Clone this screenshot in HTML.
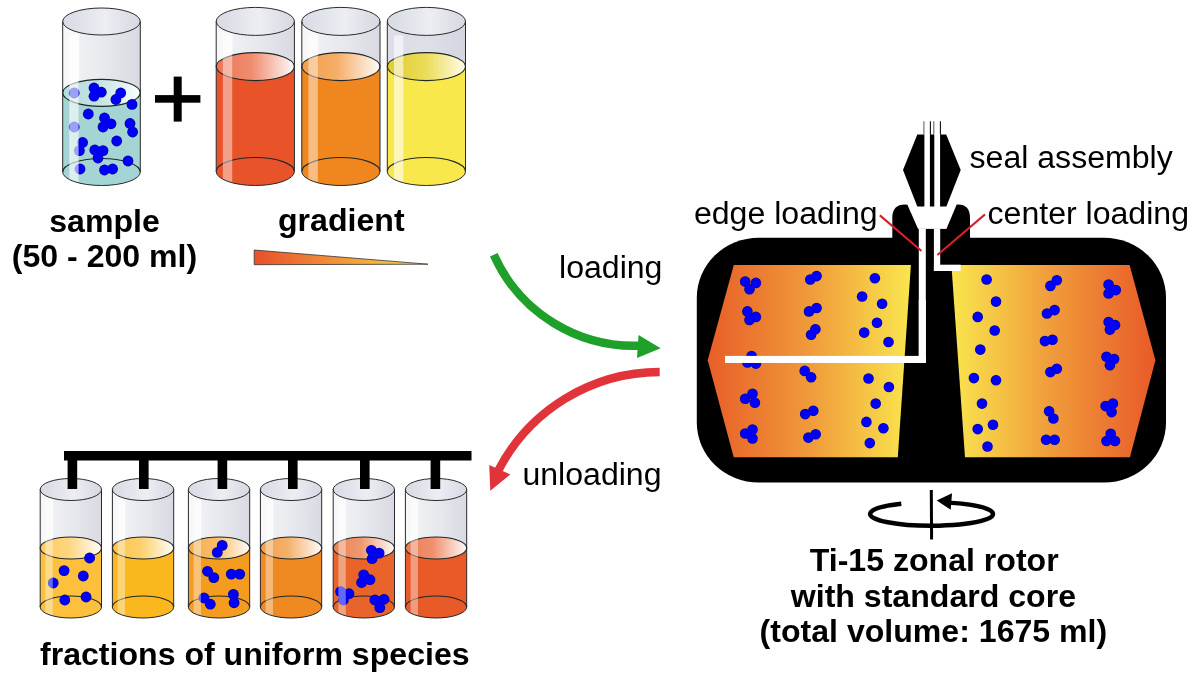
<!DOCTYPE html>
<html><head><meta charset="utf-8"><style>
html,body{margin:0;padding:0;background:#fff;width:1200px;height:678px;overflow:hidden}
svg{display:block;will-change:transform}
text{font-family:"Liberation Sans",sans-serif;font-size:32.1px;fill:#000}
</style></head><body>
<svg width="1200" height="678" viewBox="0 0 1200 678">
<defs>
<linearGradient id="g1" x1="0" x2="1" y1="0" y2="0">
<stop offset="0" stop-color="#f6f6f8"/><stop offset="0.2" stop-color="#fafafb"/><stop offset="0.22" stop-color="#eff0f3"/><stop offset="0.6" stop-color="#e6e7ec"/><stop offset="1" stop-color="#d8d9e2"/></linearGradient>
<linearGradient id="g2" x1="0" x2="1" y1="0" y2="0">
<stop offset="0" stop-color="#dcdde5"/><stop offset="0.5" stop-color="#dedfe7"/><stop offset="1" stop-color="#d4d5df"/></linearGradient>
<linearGradient id="top" x1="0" x2="1" y1="0" y2="0">
<stop offset="0" stop-color="#d8dae4"/><stop offset="0.55" stop-color="#eceef3"/><stop offset="1" stop-color="#d6d8e2"/></linearGradient>
<linearGradient id="surfs" x1="0" x2="1" y1="0" y2="0">
<stop offset="0" stop-color="#b6dddd"/><stop offset="0.45" stop-color="#c2e2e2"/><stop offset="1" stop-color="#fcfefe"/></linearGradient>
<linearGradient id="surfr0" x1="0" x2="1" y1="0" y2="0">
<stop offset="0" stop-color="#ed7555"/><stop offset="0.45" stop-color="#f08c70"/><stop offset="1" stop-color="#fefaf9"/></linearGradient>
<linearGradient id="surfr1" x1="0" x2="1" y1="0" y2="0">
<stop offset="0" stop-color="#f39e4b"/><stop offset="0.45" stop-color="#f5ae68"/><stop offset="1" stop-color="#fffbf8"/></linearGradient>
<linearGradient id="surfr2" x1="0" x2="1" y1="0" y2="0"><stop offset="0" stop-color="#dfcd2e"/><stop offset="0.5" stop-color="#ecdc5a"/><stop offset="1" stop-color="#fffde8"/></linearGradient>
<linearGradient id="surft0" x1="0" x2="1" y1="0" y2="0">
<stop offset="0" stop-color="#fdcd63"/><stop offset="0.45" stop-color="#fdd57c"/><stop offset="1" stop-color="#fffdf9"/></linearGradient>
<linearGradient id="surft1" x1="0" x2="1" y1="0" y2="0">
<stop offset="0" stop-color="#fcc64b"/><stop offset="0.45" stop-color="#fccf68"/><stop offset="1" stop-color="#fffdf8"/></linearGradient>
<linearGradient id="surft2" x1="0" x2="1" y1="0" y2="0">
<stop offset="0" stop-color="#f5b04b"/><stop offset="0.45" stop-color="#f7bd68"/><stop offset="1" stop-color="#fffcf8"/></linearGradient>
<linearGradient id="surft3" x1="0" x2="1" y1="0" y2="0">
<stop offset="0" stop-color="#f2a14e"/><stop offset="0.45" stop-color="#f4b16b"/><stop offset="1" stop-color="#fffbf8"/></linearGradient>
<linearGradient id="surft4" x1="0" x2="1" y1="0" y2="0">
<stop offset="0" stop-color="#ed8355"/><stop offset="0.45" stop-color="#f09770"/><stop offset="1" stop-color="#fefaf9"/></linearGradient>
<linearGradient id="surft5" x1="0" x2="1" y1="0" y2="0">
<stop offset="0" stop-color="#ed7b53"/><stop offset="0.45" stop-color="#f0906f"/><stop offset="1" stop-color="#fefaf9"/></linearGradient>
<linearGradient id="wedge" x1="0" x2="1" y1="0" y2="0">
<stop offset="0" stop-color="#e8502a"/><stop offset="0.6" stop-color="#f5a43a"/><stop offset="1" stop-color="#f8e04a"/></linearGradient>
<linearGradient id="chL" x1="0" x2="1" y1="0" y2="0">
<stop offset="0" stop-color="#e85e28"/><stop offset="0.5" stop-color="#f09a3a"/><stop offset="1" stop-color="#f9e64e"/></linearGradient>
<linearGradient id="chR" x1="0" x2="1" y1="0" y2="0">
<stop offset="0" stop-color="#f9e64e"/><stop offset="0.5" stop-color="#f09a3a"/><stop offset="1" stop-color="#e85a28"/></linearGradient>
</defs>
<rect width="1200" height="678" fill="#fff"/>
<path d="M62.7,21.5 L62.7,172 A38.800000000000004,13.5 0 0 0 140.3,172 L140.3,21.5 Z" fill="url(#g1)"/>
<path d="M62.7,92.8 L62.7,172 A38.800000000000004,13.5 0 0 0 140.3,172 L140.3,92.8 Z" fill="#a4d4d4"/>
<ellipse cx="101.5" cy="92.8" rx="38.800000000000004" ry="13.5" fill="url(#surfs)"/>
<ellipse cx="101.5" cy="92.8" rx="38.800000000000004" ry="13.5" fill="none" stroke="#202828" stroke-width="1.15"/>
<path d="M62.7,172 A38.800000000000004,13.5 0 0 1 140.3,172" fill="none" stroke="#202828" stroke-width="1.15"/>
<circle cx="74.2" cy="93" r="5.4" fill="#0000a0"/>
<circle cx="94" cy="88" r="5.4" fill="#0000a0"/>
<circle cx="101.3" cy="92.2" r="5.4" fill="#0000a0"/>
<circle cx="94" cy="96.2" r="5.4" fill="#0000a0"/>
<circle cx="120.7" cy="93" r="5.4" fill="#0000a0"/>
<circle cx="115.9" cy="99.5" r="5.4" fill="#0000a0"/>
<circle cx="132" cy="104.4" r="5.4" fill="#0000a0"/>
<circle cx="88.3" cy="114" r="5.4" fill="#0000a0"/>
<circle cx="104.5" cy="118" r="5.4" fill="#0000a0"/>
<circle cx="111" cy="123.8" r="5.4" fill="#0000a0"/>
<circle cx="103" cy="127" r="5.4" fill="#0000a0"/>
<circle cx="130" cy="123.5" r="5.4" fill="#0000a0"/>
<circle cx="132.6" cy="132" r="5.4" fill="#0000a0"/>
<circle cx="74.2" cy="127" r="5.4" fill="#0000a0"/>
<circle cx="116.7" cy="141" r="5.4" fill="#0000a0"/>
<circle cx="82.6" cy="142.5" r="5.4" fill="#0000a0"/>
<circle cx="79.4" cy="150.6" r="5.4" fill="#0000a0"/>
<circle cx="94.8" cy="150" r="5.4" fill="#0000a0"/>
<circle cx="103" cy="150.6" r="5.4" fill="#0000a0"/>
<circle cx="98" cy="158" r="5.4" fill="#0000a0"/>
<circle cx="128" cy="161" r="5.4" fill="#0000a0"/>
<circle cx="80" cy="169" r="5.4" fill="#0000a0"/>
<circle cx="104.5" cy="170" r="5.4" fill="#0000a0"/>
<circle cx="112.6" cy="169" r="5.4" fill="#0000a0"/>
<circle cx="74.2" cy="93" r="4.7" fill="#0000f8"/>
<circle cx="94" cy="88" r="4.7" fill="#0000f8"/>
<circle cx="101.3" cy="92.2" r="4.7" fill="#0000f8"/>
<circle cx="94" cy="96.2" r="4.7" fill="#0000f8"/>
<circle cx="120.7" cy="93" r="4.7" fill="#0000f8"/>
<circle cx="115.9" cy="99.5" r="4.7" fill="#0000f8"/>
<circle cx="132" cy="104.4" r="4.7" fill="#0000f8"/>
<circle cx="88.3" cy="114" r="4.7" fill="#0000f8"/>
<circle cx="104.5" cy="118" r="4.7" fill="#0000f8"/>
<circle cx="111" cy="123.8" r="4.7" fill="#0000f8"/>
<circle cx="103" cy="127" r="4.7" fill="#0000f8"/>
<circle cx="130" cy="123.5" r="4.7" fill="#0000f8"/>
<circle cx="132.6" cy="132" r="4.7" fill="#0000f8"/>
<circle cx="74.2" cy="127" r="4.7" fill="#0000f8"/>
<circle cx="116.7" cy="141" r="4.7" fill="#0000f8"/>
<circle cx="82.6" cy="142.5" r="4.7" fill="#0000f8"/>
<circle cx="79.4" cy="150.6" r="4.7" fill="#0000f8"/>
<circle cx="94.8" cy="150" r="4.7" fill="#0000f8"/>
<circle cx="103" cy="150.6" r="4.7" fill="#0000f8"/>
<circle cx="98" cy="158" r="4.7" fill="#0000f8"/>
<circle cx="128" cy="161" r="4.7" fill="#0000f8"/>
<circle cx="80" cy="169" r="4.7" fill="#0000f8"/>
<circle cx="104.5" cy="170" r="4.7" fill="#0000f8"/>
<circle cx="112.6" cy="169" r="4.7" fill="#0000f8"/>
<rect x="69.296" y="35.0" width="9.312000000000001" height="148.475" fill="#fff" opacity="0.62"/>
<ellipse cx="101.5" cy="21.5" rx="38.800000000000004" ry="13.5" fill="url(#top)" stroke="#2a2a2a" stroke-width="1"/>
<path d="M62.7,21.5 L62.7,172 A38.800000000000004,13.5 0 0 0 140.3,172 L140.3,21.5" fill="none" stroke="#2a2a2a" stroke-width="1"/>
<rect x="155" y="95.1" width="45.4" height="7.6" fill="#000"/>
<rect x="173.7" y="76.6" width="8" height="45" fill="#000"/>
<path d="M216.2,21.4 L216.2,171.5 A39.099999999999994,14 0 0 0 294.4,171.5 L294.4,21.4 Z" fill="url(#g1)"/>
<path d="M216.2,66.6 L216.2,171.5 A39.099999999999994,14 0 0 0 294.4,171.5 L294.4,66.6 Z" fill="#e8532a"/>
<ellipse cx="255.29999999999998" cy="66.6" rx="39.099999999999994" ry="14" fill="url(#surfr0)"/>
<ellipse cx="255.29999999999998" cy="66.6" rx="39.099999999999994" ry="14" fill="none" stroke="#202828" stroke-width="1.15"/>
<path d="M216.2,171.5 A39.099999999999994,14 0 0 1 294.4,171.5" fill="none" stroke="#202828" stroke-width="1.15"/>
<rect x="222.84699999999998" y="35.4" width="9.383999999999999" height="148.0" fill="#fff" opacity="0.45"/>
<ellipse cx="255.29999999999998" cy="21.4" rx="39.099999999999994" ry="14" fill="url(#top)" stroke="#2a2a2a" stroke-width="1"/>
<path d="M216.2,21.4 L216.2,171.5 A39.099999999999994,14 0 0 0 294.4,171.5 L294.4,21.4" fill="none" stroke="#2a2a2a" stroke-width="1"/>
<path d="M301.8,21.4 L301.8,171.5 A39.099999999999994,14 0 0 0 380,171.5 L380,21.4 Z" fill="url(#g1)"/>
<path d="M301.8,66.6 L301.8,171.5 A39.099999999999994,14 0 0 0 380,171.5 L380,66.6 Z" fill="#f0861e"/>
<ellipse cx="340.9" cy="66.6" rx="39.099999999999994" ry="14" fill="url(#surfr1)"/>
<ellipse cx="340.9" cy="66.6" rx="39.099999999999994" ry="14" fill="none" stroke="#202828" stroke-width="1.15"/>
<path d="M301.8,171.5 A39.099999999999994,14 0 0 1 380,171.5" fill="none" stroke="#202828" stroke-width="1.15"/>
<rect x="308.447" y="35.4" width="9.383999999999999" height="148.0" fill="#fff" opacity="0.45"/>
<ellipse cx="340.9" cy="21.4" rx="39.099999999999994" ry="14" fill="url(#top)" stroke="#2a2a2a" stroke-width="1"/>
<path d="M301.8,21.4 L301.8,171.5 A39.099999999999994,14 0 0 0 380,171.5 L380,21.4" fill="none" stroke="#2a2a2a" stroke-width="1"/>
<path d="M387.3,21.4 L387.3,171.5 A39.099999999999994,14 0 0 0 465.5,171.5 L465.5,21.4 Z" fill="url(#g2)"/>
<path d="M387.3,66.6 L387.3,171.5 A39.099999999999994,14 0 0 0 465.5,171.5 L465.5,66.6 Z" fill="#f9e84c"/>
<ellipse cx="426.4" cy="66.6" rx="39.099999999999994" ry="14" fill="url(#surfr2)"/>
<ellipse cx="426.4" cy="66.6" rx="39.099999999999994" ry="14" fill="none" stroke="#202828" stroke-width="1.15"/>
<path d="M387.3,171.5 A39.099999999999994,14 0 0 1 465.5,171.5" fill="none" stroke="#202828" stroke-width="1.15"/>
<rect x="393.947" y="35.4" width="9.383999999999999" height="148.0" fill="#fff" opacity="0.6"/>
<ellipse cx="426.4" cy="21.4" rx="39.099999999999994" ry="14" fill="url(#top)" stroke="#2a2a2a" stroke-width="1"/>
<path d="M387.3,21.4 L387.3,171.5 A39.099999999999994,14 0 0 0 465.5,171.5 L465.5,21.4" fill="none" stroke="#2a2a2a" stroke-width="1"/>
<path d="M40.2,489.5 L40.2,607 A30.65,11 0 0 0 101.5,607 L101.5,489.5 Z" fill="url(#g1)"/>
<path d="M40.2,548 L40.2,607 A30.65,11 0 0 0 101.5,607 L101.5,548 Z" fill="#fcc03c"/>
<ellipse cx="70.85" cy="548" rx="30.65" ry="11" fill="url(#surft0)"/>
<ellipse cx="70.85" cy="548" rx="30.65" ry="11" fill="none" stroke="#202828" stroke-width="1.15"/>
<path d="M40.2,607 A30.65,11 0 0 1 101.5,607" fill="none" stroke="#202828" stroke-width="1.15"/>
<circle cx="89.6" cy="558" r="5.4" fill="#0000a0"/>
<circle cx="64.1" cy="570.6" r="5.4" fill="#0000a0"/>
<circle cx="83.3" cy="576" r="5.4" fill="#0000a0"/>
<circle cx="53.2" cy="583" r="5.4" fill="#0000a0"/>
<circle cx="64.8" cy="600" r="5.4" fill="#0000a0"/>
<circle cx="86.1" cy="597" r="5.4" fill="#0000a0"/>
<circle cx="89.6" cy="558" r="4.7" fill="#0000f8"/>
<circle cx="64.1" cy="570.6" r="4.7" fill="#0000f8"/>
<circle cx="83.3" cy="576" r="4.7" fill="#0000f8"/>
<circle cx="53.2" cy="583" r="4.7" fill="#0000f8"/>
<circle cx="64.8" cy="600" r="4.7" fill="#0000f8"/>
<circle cx="86.1" cy="597" r="4.7" fill="#0000f8"/>
<rect x="45.410500000000006" y="500.5" width="7.355999999999999" height="115.85" fill="#fff" opacity="0.4"/>
<ellipse cx="70.85" cy="489.5" rx="30.65" ry="11" fill="url(#top)" stroke="#2a2a2a" stroke-width="1"/>
<path d="M40.2,489.5 L40.2,607 A30.65,11 0 0 0 101.5,607 L101.5,489.5" fill="none" stroke="#2a2a2a" stroke-width="1"/>
<path d="M112.4,489.5 L112.4,607 A30.64999999999999,11 0 0 0 173.7,607 L173.7,489.5 Z" fill="url(#g1)"/>
<path d="M112.4,548 L112.4,607 A30.64999999999999,11 0 0 0 173.7,607 L173.7,548 Z" fill="#fbb81e"/>
<ellipse cx="143.05" cy="548" rx="30.64999999999999" ry="11" fill="url(#surft1)"/>
<ellipse cx="143.05" cy="548" rx="30.64999999999999" ry="11" fill="none" stroke="#202828" stroke-width="1.15"/>
<path d="M112.4,607 A30.64999999999999,11 0 0 1 173.7,607" fill="none" stroke="#202828" stroke-width="1.15"/>
<rect x="117.6105" y="500.5" width="7.355999999999998" height="115.85" fill="#fff" opacity="0.4"/>
<ellipse cx="143.05" cy="489.5" rx="30.64999999999999" ry="11" fill="url(#top)" stroke="#2a2a2a" stroke-width="1"/>
<path d="M112.4,489.5 L112.4,607 A30.64999999999999,11 0 0 0 173.7,607 L173.7,489.5" fill="none" stroke="#2a2a2a" stroke-width="1"/>
<path d="M188.4,489.5 L188.4,607 A30.64999999999999,11 0 0 0 249.7,607 L249.7,489.5 Z" fill="url(#g1)"/>
<path d="M188.4,548 L188.4,607 A30.64999999999999,11 0 0 0 249.7,607 L249.7,548 Z" fill="#f39c1e"/>
<ellipse cx="219.05" cy="548" rx="30.64999999999999" ry="11" fill="url(#surft2)"/>
<ellipse cx="219.05" cy="548" rx="30.64999999999999" ry="11" fill="none" stroke="#202828" stroke-width="1.15"/>
<path d="M188.4,607 A30.64999999999999,11 0 0 1 249.7,607" fill="none" stroke="#202828" stroke-width="1.15"/>
<circle cx="222.2" cy="545.4" r="5.4" fill="#0000a0"/>
<circle cx="217.3" cy="552.4" r="5.4" fill="#0000a0"/>
<circle cx="207.5" cy="571.3" r="5.4" fill="#0000a0"/>
<circle cx="213.8" cy="577.6" r="5.4" fill="#0000a0"/>
<circle cx="231.3" cy="574.1" r="5.4" fill="#0000a0"/>
<circle cx="239.7" cy="574.1" r="5.4" fill="#0000a0"/>
<circle cx="204" cy="598" r="5.4" fill="#0000a0"/>
<circle cx="210.3" cy="604.2" r="5.4" fill="#0000a0"/>
<circle cx="233.4" cy="594.4" r="5.4" fill="#0000a0"/>
<circle cx="234.1" cy="602.8" r="5.4" fill="#0000a0"/>
<circle cx="222.2" cy="545.4" r="4.7" fill="#0000f8"/>
<circle cx="217.3" cy="552.4" r="4.7" fill="#0000f8"/>
<circle cx="207.5" cy="571.3" r="4.7" fill="#0000f8"/>
<circle cx="213.8" cy="577.6" r="4.7" fill="#0000f8"/>
<circle cx="231.3" cy="574.1" r="4.7" fill="#0000f8"/>
<circle cx="239.7" cy="574.1" r="4.7" fill="#0000f8"/>
<circle cx="204" cy="598" r="4.7" fill="#0000f8"/>
<circle cx="210.3" cy="604.2" r="4.7" fill="#0000f8"/>
<circle cx="233.4" cy="594.4" r="4.7" fill="#0000f8"/>
<circle cx="234.1" cy="602.8" r="4.7" fill="#0000f8"/>
<rect x="193.6105" y="500.5" width="7.355999999999998" height="115.85" fill="#fff" opacity="0.4"/>
<ellipse cx="219.05" cy="489.5" rx="30.64999999999999" ry="11" fill="url(#top)" stroke="#2a2a2a" stroke-width="1"/>
<path d="M188.4,489.5 L188.4,607 A30.64999999999999,11 0 0 0 249.7,607 L249.7,489.5" fill="none" stroke="#2a2a2a" stroke-width="1"/>
<path d="M260.4,489.5 L260.4,607 A30.650000000000006,11 0 0 0 321.7,607 L321.7,489.5 Z" fill="url(#g1)"/>
<path d="M260.4,548 L260.4,607 A30.650000000000006,11 0 0 0 321.7,607 L321.7,548 Z" fill="#ef8a22"/>
<ellipse cx="291.04999999999995" cy="548" rx="30.650000000000006" ry="11" fill="url(#surft3)"/>
<ellipse cx="291.04999999999995" cy="548" rx="30.650000000000006" ry="11" fill="none" stroke="#202828" stroke-width="1.15"/>
<path d="M260.4,607 A30.650000000000006,11 0 0 1 321.7,607" fill="none" stroke="#202828" stroke-width="1.15"/>
<rect x="265.6105" y="500.5" width="7.356000000000001" height="115.85" fill="#fff" opacity="0.4"/>
<ellipse cx="291.04999999999995" cy="489.5" rx="30.650000000000006" ry="11" fill="url(#top)" stroke="#2a2a2a" stroke-width="1"/>
<path d="M260.4,489.5 L260.4,607 A30.650000000000006,11 0 0 0 321.7,607 L321.7,489.5" fill="none" stroke="#2a2a2a" stroke-width="1"/>
<path d="M333.2,489.5 L333.2,607 A30.650000000000006,11 0 0 0 394.5,607 L394.5,489.5 Z" fill="url(#g1)"/>
<path d="M333.2,548 L333.2,607 A30.650000000000006,11 0 0 0 394.5,607 L394.5,548 Z" fill="#e8642a"/>
<ellipse cx="363.85" cy="548" rx="30.650000000000006" ry="11" fill="url(#surft4)"/>
<ellipse cx="363.85" cy="548" rx="30.650000000000006" ry="11" fill="none" stroke="#202828" stroke-width="1.15"/>
<path d="M333.2,607 A30.650000000000006,11 0 0 1 394.5,607" fill="none" stroke="#202828" stroke-width="1.15"/>
<circle cx="371.4" cy="550.3" r="5.4" fill="#0000a0"/>
<circle cx="379.1" cy="553.1" r="5.4" fill="#0000a0"/>
<circle cx="372.1" cy="558.7" r="5.4" fill="#0000a0"/>
<circle cx="363.7" cy="574.8" r="5.4" fill="#0000a0"/>
<circle cx="370" cy="579.7" r="5.4" fill="#0000a0"/>
<circle cx="361.6" cy="582.5" r="5.4" fill="#0000a0"/>
<circle cx="340.6" cy="591.6" r="5.4" fill="#0000a0"/>
<circle cx="349" cy="593.7" r="5.4" fill="#0000a0"/>
<circle cx="343.4" cy="600" r="5.4" fill="#0000a0"/>
<circle cx="374.9" cy="600" r="5.4" fill="#0000a0"/>
<circle cx="384" cy="599.3" r="5.4" fill="#0000a0"/>
<circle cx="379.8" cy="607.7" r="5.4" fill="#0000a0"/>
<circle cx="371.4" cy="550.3" r="4.7" fill="#0000f8"/>
<circle cx="379.1" cy="553.1" r="4.7" fill="#0000f8"/>
<circle cx="372.1" cy="558.7" r="4.7" fill="#0000f8"/>
<circle cx="363.7" cy="574.8" r="4.7" fill="#0000f8"/>
<circle cx="370" cy="579.7" r="4.7" fill="#0000f8"/>
<circle cx="361.6" cy="582.5" r="4.7" fill="#0000f8"/>
<circle cx="340.6" cy="591.6" r="4.7" fill="#0000f8"/>
<circle cx="349" cy="593.7" r="4.7" fill="#0000f8"/>
<circle cx="343.4" cy="600" r="4.7" fill="#0000f8"/>
<circle cx="374.9" cy="600" r="4.7" fill="#0000f8"/>
<circle cx="384" cy="599.3" r="4.7" fill="#0000f8"/>
<circle cx="379.8" cy="607.7" r="4.7" fill="#0000f8"/>
<rect x="338.4105" y="500.5" width="7.356000000000001" height="115.85" fill="#fff" opacity="0.4"/>
<ellipse cx="363.85" cy="489.5" rx="30.650000000000006" ry="11" fill="url(#top)" stroke="#2a2a2a" stroke-width="1"/>
<path d="M333.2,489.5 L333.2,607 A30.650000000000006,11 0 0 0 394.5,607 L394.5,489.5" fill="none" stroke="#2a2a2a" stroke-width="1"/>
<path d="M405.4,489.5 L405.4,607 A30.650000000000006,11 0 0 0 466.7,607 L466.7,489.5 Z" fill="url(#g1)"/>
<path d="M405.4,548 L405.4,607 A30.650000000000006,11 0 0 0 466.7,607 L466.7,548 Z" fill="#e85a28"/>
<ellipse cx="436.04999999999995" cy="548" rx="30.650000000000006" ry="11" fill="url(#surft5)"/>
<ellipse cx="436.04999999999995" cy="548" rx="30.650000000000006" ry="11" fill="none" stroke="#202828" stroke-width="1.15"/>
<path d="M405.4,607 A30.650000000000006,11 0 0 1 466.7,607" fill="none" stroke="#202828" stroke-width="1.15"/>
<rect x="410.6105" y="500.5" width="7.356000000000001" height="115.85" fill="#fff" opacity="0.4"/>
<ellipse cx="436.04999999999995" cy="489.5" rx="30.650000000000006" ry="11" fill="url(#top)" stroke="#2a2a2a" stroke-width="1"/>
<path d="M405.4,489.5 L405.4,607 A30.650000000000006,11 0 0 0 466.7,607 L466.7,489.5" fill="none" stroke="#2a2a2a" stroke-width="1"/>
<rect x="64" y="451" width="407.5" height="9.5" fill="#000"/>
<rect x="67.6" y="455" width="9.6" height="34" fill="#000"/>
<rect x="139" y="455" width="9.6" height="34" fill="#000"/>
<rect x="217.6" y="455" width="9.6" height="34" fill="#000"/>
<rect x="288" y="455" width="9.6" height="34" fill="#000"/>
<rect x="360" y="455" width="9.6" height="34" fill="#000"/>
<rect x="430.6" y="455" width="9.6" height="34" fill="#000"/>
<path d="M254.2,250 L428,264.2 L254.2,264.7 Z" fill="url(#wedge)" stroke="#333" stroke-width="0.8"/>
<path d="M493.8,254.7 A153.5,153.5 0 0 0 642,345.5" fill="none" stroke="#1ea02a" stroke-width="8.4"/>
<path d="M660.7,348.3 L638.5,335.1 L637,358.1 Z" fill="#1ea02a"/>
<path d="M659.7,372 A181.8,181.8 0 0 0 498.1,471" fill="none" stroke="#e0343a" stroke-width="8.4"/>
<path d="M490.3,490.8 L489.2,464.9 L510.3,474.5 Z" fill="#e0343a"/>
<text x="104.5" y="231.6" font-weight="bold" text-anchor="middle">sample</text>
<text x="104.5" y="267.1" font-weight="bold" text-anchor="middle">(50 - 200 ml)</text>
<text x="341.3" y="230.6" font-weight="bold" text-anchor="middle">gradient</text>
<text x="559" y="277.7" font-weight="normal" text-anchor="start">loading</text>
<text x="522.4" y="484.8" font-weight="normal" text-anchor="start">unloading</text>
<text x="254.8" y="665.2" font-weight="bold" text-anchor="middle">fractions of uniform species</text>
<text x="969.5" y="167.5" font-weight="normal" text-anchor="start">seal assembly</text>
<text x="693.9" y="224.1" font-weight="normal" text-anchor="start">edge loading</text>
<text x="987.5" y="223.8" font-weight="normal" text-anchor="start">center loading</text>
<text x="934.2" y="571.3" font-weight="bold" text-anchor="middle">Ti-15 zonal rotor</text>
<text x="933.4" y="607.4" font-weight="bold" text-anchor="middle">with standard core</text>
<text x="933.4" y="642.2" font-weight="bold" text-anchor="middle">(total volume: 1675 ml)</text>
<rect x="696.8" y="237.8" width="469.2" height="244.7" rx="62" ry="60" fill="#000"/>
<path d="M892.3,240 L892.3,218 Q892.3,204.6 905,204.6 L907.4,204.8 L918.1,228.9 L918.1,240 Z" fill="#000"/>
<path d="M970,240 L970,218 Q970,204.6 958,204.6 L956.7,204.6 L946.4,228.9 L946.4,240 Z" fill="#000"/>
<path d="M917.3,134.4 L946.2,134.4 L960.7,170.1 L946.4,206.4 L917.3,206.4 L903,170.1 Z" fill="#000"/>
<path d="M733.8,265 L910.9,265 L897.8,457.3 L733.7,457.3 L707.7,360.3 Z" fill="url(#chL)"/>
<path d="M951.4,265 L1129.6,265 L1155.4,360.2 L1129.9,457.3 L965,457.3 Z" fill="url(#chR)"/>
<line x1="923.9" y1="121.2" x2="923.9" y2="135" stroke="#666" stroke-width="1.1"/>
<line x1="930.4" y1="121.2" x2="930.4" y2="135" stroke="#111" stroke-width="1.1"/>
<line x1="933.8" y1="121.2" x2="933.8" y2="135" stroke="#666" stroke-width="1.1"/>
<line x1="940.4" y1="121.2" x2="940.4" y2="135" stroke="#111" stroke-width="1.1"/>
<rect x="924.4" y="134" width="5.5" height="73" fill="#fff"/>
<rect x="934.3" y="134" width="5.8" height="73" fill="#fff"/>
<rect x="917.5" y="228.9" width="29.5" height="12" fill="#000"/>
<rect x="918.8" y="228.9" width="7" height="133.5" fill="#fff"/>
<rect x="933.9" y="228.9" width="6.3" height="42.1" fill="#fff"/>
<rect x="933.9" y="264.7" width="26.7" height="6.3" fill="#fff"/>
<line x1="879.9" y1="215.4" x2="921.5" y2="251" stroke="#d8202a" stroke-width="2.1"/>
<line x1="985" y1="214.4" x2="937.4" y2="255" stroke="#d8202a" stroke-width="2.1"/>
<circle cx="745.2" cy="281.6" r="5.3" fill="#0000a0"/>
<circle cx="755.9" cy="282.9" r="5.3" fill="#0000a0"/>
<circle cx="749.5" cy="289.3" r="5.3" fill="#0000a0"/>
<circle cx="747.4" cy="311.4" r="5.3" fill="#0000a0"/>
<circle cx="755.9" cy="316.9" r="5.3" fill="#0000a0"/>
<circle cx="749.5" cy="319.9" r="5.3" fill="#0000a0"/>
<circle cx="751.6" cy="356" r="5.3" fill="#0000a0"/>
<circle cx="747.4" cy="362.4" r="5.3" fill="#0000a0"/>
<circle cx="755.9" cy="363.6" r="5.3" fill="#0000a0"/>
<circle cx="752.5" cy="393.8" r="5.3" fill="#0000a0"/>
<circle cx="745.2" cy="398.7" r="5.3" fill="#0000a0"/>
<circle cx="754.9" cy="402.7" r="5.3" fill="#0000a0"/>
<circle cx="752.5" cy="429.5" r="5.3" fill="#0000a0"/>
<circle cx="745.2" cy="433.5" r="5.3" fill="#0000a0"/>
<circle cx="752.5" cy="438.4" r="5.3" fill="#0000a0"/>
<circle cx="810.3" cy="279.5" r="5.3" fill="#0000a0"/>
<circle cx="816.6" cy="276.1" r="5.3" fill="#0000a0"/>
<circle cx="809" cy="311.4" r="5.3" fill="#0000a0"/>
<circle cx="816.6" cy="308" r="5.3" fill="#0000a0"/>
<circle cx="811.1" cy="334.7" r="5.3" fill="#0000a0"/>
<circle cx="815.4" cy="329.2" r="5.3" fill="#0000a0"/>
<circle cx="804.7" cy="370.9" r="5.3" fill="#0000a0"/>
<circle cx="811.1" cy="377.2" r="5.3" fill="#0000a0"/>
<circle cx="805.2" cy="414.1" r="5.3" fill="#0000a0"/>
<circle cx="813.3" cy="410.8" r="5.3" fill="#0000a0"/>
<circle cx="808.4" cy="437.6" r="5.3" fill="#0000a0"/>
<circle cx="815.7" cy="434.3" r="5.3" fill="#0000a0"/>
<circle cx="874.9" cy="278.2" r="5.3" fill="#0000a0"/>
<circle cx="862.1" cy="296.5" r="5.3" fill="#0000a0"/>
<circle cx="882.1" cy="303.7" r="5.3" fill="#0000a0"/>
<circle cx="877" cy="322.8" r="5.3" fill="#0000a0"/>
<circle cx="864.2" cy="332.6" r="5.3" fill="#0000a0"/>
<circle cx="888.5" cy="342" r="5.3" fill="#0000a0"/>
<circle cx="868.5" cy="378.5" r="5.3" fill="#0000a0"/>
<circle cx="888.9" cy="387" r="5.3" fill="#0000a0"/>
<circle cx="875.7" cy="403.6" r="5.3" fill="#0000a0"/>
<circle cx="866.4" cy="421.9" r="5.3" fill="#0000a0"/>
<circle cx="883.4" cy="428.2" r="5.3" fill="#0000a0"/>
<circle cx="869.8" cy="443.1" r="5.3" fill="#0000a0"/>
<circle cx="986.6" cy="279.5" r="5.3" fill="#0000a0"/>
<circle cx="996" cy="301.6" r="5.3" fill="#0000a0"/>
<circle cx="977.7" cy="316.9" r="5.3" fill="#0000a0"/>
<circle cx="994.7" cy="330.5" r="5.3" fill="#0000a0"/>
<circle cx="980.3" cy="349.6" r="5.3" fill="#0000a0"/>
<circle cx="973.9" cy="378.1" r="5.3" fill="#0000a0"/>
<circle cx="996" cy="380.2" r="5.3" fill="#0000a0"/>
<circle cx="982" cy="403.6" r="5.3" fill="#0000a0"/>
<circle cx="993" cy="424.8" r="5.3" fill="#0000a0"/>
<circle cx="977.7" cy="429.1" r="5.3" fill="#0000a0"/>
<circle cx="987.5" cy="446.5" r="5.3" fill="#0000a0"/>
<circle cx="1050.4" cy="285.9" r="5.3" fill="#0000a0"/>
<circle cx="1056.8" cy="280.3" r="5.3" fill="#0000a0"/>
<circle cx="1047" cy="313.5" r="5.3" fill="#0000a0"/>
<circle cx="1054.6" cy="310.1" r="5.3" fill="#0000a0"/>
<circle cx="1044.9" cy="341.1" r="5.3" fill="#0000a0"/>
<circle cx="1052.5" cy="339.8" r="5.3" fill="#0000a0"/>
<circle cx="1050.4" cy="372.1" r="5.3" fill="#0000a0"/>
<circle cx="1056.8" cy="368.7" r="5.3" fill="#0000a0"/>
<circle cx="1049.1" cy="411.2" r="5.3" fill="#0000a0"/>
<circle cx="1053.4" cy="418.5" r="5.3" fill="#0000a0"/>
<circle cx="1046.1" cy="439.7" r="5.3" fill="#0000a0"/>
<circle cx="1054.6" cy="439.7" r="5.3" fill="#0000a0"/>
<circle cx="1108.6" cy="284.6" r="5.3" fill="#0000a0"/>
<circle cx="1115.8" cy="290.1" r="5.3" fill="#0000a0"/>
<circle cx="1108.6" cy="293.5" r="5.3" fill="#0000a0"/>
<circle cx="1108.6" cy="322" r="5.3" fill="#0000a0"/>
<circle cx="1115" cy="325" r="5.3" fill="#0000a0"/>
<circle cx="1109.9" cy="329.6" r="5.3" fill="#0000a0"/>
<circle cx="1106.5" cy="356.8" r="5.3" fill="#0000a0"/>
<circle cx="1114.1" cy="359" r="5.3" fill="#0000a0"/>
<circle cx="1109.9" cy="365.3" r="5.3" fill="#0000a0"/>
<circle cx="1105.6" cy="406.1" r="5.3" fill="#0000a0"/>
<circle cx="1112.9" cy="403.6" r="5.3" fill="#0000a0"/>
<circle cx="1111.6" cy="412.1" r="5.3" fill="#0000a0"/>
<circle cx="1110.7" cy="433.8" r="5.3" fill="#0000a0"/>
<circle cx="1106.5" cy="441" r="5.3" fill="#0000a0"/>
<circle cx="1115" cy="441" r="5.3" fill="#0000a0"/>
<circle cx="745.2" cy="281.6" r="4.6" fill="#0000f8"/>
<circle cx="755.9" cy="282.9" r="4.6" fill="#0000f8"/>
<circle cx="749.5" cy="289.3" r="4.6" fill="#0000f8"/>
<circle cx="747.4" cy="311.4" r="4.6" fill="#0000f8"/>
<circle cx="755.9" cy="316.9" r="4.6" fill="#0000f8"/>
<circle cx="749.5" cy="319.9" r="4.6" fill="#0000f8"/>
<circle cx="751.6" cy="356" r="4.6" fill="#0000f8"/>
<circle cx="747.4" cy="362.4" r="4.6" fill="#0000f8"/>
<circle cx="755.9" cy="363.6" r="4.6" fill="#0000f8"/>
<circle cx="752.5" cy="393.8" r="4.6" fill="#0000f8"/>
<circle cx="745.2" cy="398.7" r="4.6" fill="#0000f8"/>
<circle cx="754.9" cy="402.7" r="4.6" fill="#0000f8"/>
<circle cx="752.5" cy="429.5" r="4.6" fill="#0000f8"/>
<circle cx="745.2" cy="433.5" r="4.6" fill="#0000f8"/>
<circle cx="752.5" cy="438.4" r="4.6" fill="#0000f8"/>
<circle cx="810.3" cy="279.5" r="4.6" fill="#0000f8"/>
<circle cx="816.6" cy="276.1" r="4.6" fill="#0000f8"/>
<circle cx="809" cy="311.4" r="4.6" fill="#0000f8"/>
<circle cx="816.6" cy="308" r="4.6" fill="#0000f8"/>
<circle cx="811.1" cy="334.7" r="4.6" fill="#0000f8"/>
<circle cx="815.4" cy="329.2" r="4.6" fill="#0000f8"/>
<circle cx="804.7" cy="370.9" r="4.6" fill="#0000f8"/>
<circle cx="811.1" cy="377.2" r="4.6" fill="#0000f8"/>
<circle cx="805.2" cy="414.1" r="4.6" fill="#0000f8"/>
<circle cx="813.3" cy="410.8" r="4.6" fill="#0000f8"/>
<circle cx="808.4" cy="437.6" r="4.6" fill="#0000f8"/>
<circle cx="815.7" cy="434.3" r="4.6" fill="#0000f8"/>
<circle cx="874.9" cy="278.2" r="4.6" fill="#0000f8"/>
<circle cx="862.1" cy="296.5" r="4.6" fill="#0000f8"/>
<circle cx="882.1" cy="303.7" r="4.6" fill="#0000f8"/>
<circle cx="877" cy="322.8" r="4.6" fill="#0000f8"/>
<circle cx="864.2" cy="332.6" r="4.6" fill="#0000f8"/>
<circle cx="888.5" cy="342" r="4.6" fill="#0000f8"/>
<circle cx="868.5" cy="378.5" r="4.6" fill="#0000f8"/>
<circle cx="888.9" cy="387" r="4.6" fill="#0000f8"/>
<circle cx="875.7" cy="403.6" r="4.6" fill="#0000f8"/>
<circle cx="866.4" cy="421.9" r="4.6" fill="#0000f8"/>
<circle cx="883.4" cy="428.2" r="4.6" fill="#0000f8"/>
<circle cx="869.8" cy="443.1" r="4.6" fill="#0000f8"/>
<circle cx="986.6" cy="279.5" r="4.6" fill="#0000f8"/>
<circle cx="996" cy="301.6" r="4.6" fill="#0000f8"/>
<circle cx="977.7" cy="316.9" r="4.6" fill="#0000f8"/>
<circle cx="994.7" cy="330.5" r="4.6" fill="#0000f8"/>
<circle cx="980.3" cy="349.6" r="4.6" fill="#0000f8"/>
<circle cx="973.9" cy="378.1" r="4.6" fill="#0000f8"/>
<circle cx="996" cy="380.2" r="4.6" fill="#0000f8"/>
<circle cx="982" cy="403.6" r="4.6" fill="#0000f8"/>
<circle cx="993" cy="424.8" r="4.6" fill="#0000f8"/>
<circle cx="977.7" cy="429.1" r="4.6" fill="#0000f8"/>
<circle cx="987.5" cy="446.5" r="4.6" fill="#0000f8"/>
<circle cx="1050.4" cy="285.9" r="4.6" fill="#0000f8"/>
<circle cx="1056.8" cy="280.3" r="4.6" fill="#0000f8"/>
<circle cx="1047" cy="313.5" r="4.6" fill="#0000f8"/>
<circle cx="1054.6" cy="310.1" r="4.6" fill="#0000f8"/>
<circle cx="1044.9" cy="341.1" r="4.6" fill="#0000f8"/>
<circle cx="1052.5" cy="339.8" r="4.6" fill="#0000f8"/>
<circle cx="1050.4" cy="372.1" r="4.6" fill="#0000f8"/>
<circle cx="1056.8" cy="368.7" r="4.6" fill="#0000f8"/>
<circle cx="1049.1" cy="411.2" r="4.6" fill="#0000f8"/>
<circle cx="1053.4" cy="418.5" r="4.6" fill="#0000f8"/>
<circle cx="1046.1" cy="439.7" r="4.6" fill="#0000f8"/>
<circle cx="1054.6" cy="439.7" r="4.6" fill="#0000f8"/>
<circle cx="1108.6" cy="284.6" r="4.6" fill="#0000f8"/>
<circle cx="1115.8" cy="290.1" r="4.6" fill="#0000f8"/>
<circle cx="1108.6" cy="293.5" r="4.6" fill="#0000f8"/>
<circle cx="1108.6" cy="322" r="4.6" fill="#0000f8"/>
<circle cx="1115" cy="325" r="4.6" fill="#0000f8"/>
<circle cx="1109.9" cy="329.6" r="4.6" fill="#0000f8"/>
<circle cx="1106.5" cy="356.8" r="4.6" fill="#0000f8"/>
<circle cx="1114.1" cy="359" r="4.6" fill="#0000f8"/>
<circle cx="1109.9" cy="365.3" r="4.6" fill="#0000f8"/>
<circle cx="1105.6" cy="406.1" r="4.6" fill="#0000f8"/>
<circle cx="1112.9" cy="403.6" r="4.6" fill="#0000f8"/>
<circle cx="1111.6" cy="412.1" r="4.6" fill="#0000f8"/>
<circle cx="1110.7" cy="433.8" r="4.6" fill="#0000f8"/>
<circle cx="1106.5" cy="441" r="4.6" fill="#0000f8"/>
<circle cx="1115" cy="441" r="4.6" fill="#0000f8"/>
<rect x="725" y="355.9" width="200.8" height="7.1" fill="#fff"/>
<rect x="918.8" y="300" width="7" height="63" fill="#fff"/>
<path d="M901.3,503.7 A61.45,11.8 0 1 0 948,502.6" fill="none" stroke="#000" stroke-width="4.4"/>
<path d="M936.7,500.4 L952,493.3 L950.7,509.7 Z" fill="#000"/>
<line x1="931.3" y1="490" x2="931.6" y2="539.5" stroke="#000" stroke-width="3"/>
</svg>
</body></html>
